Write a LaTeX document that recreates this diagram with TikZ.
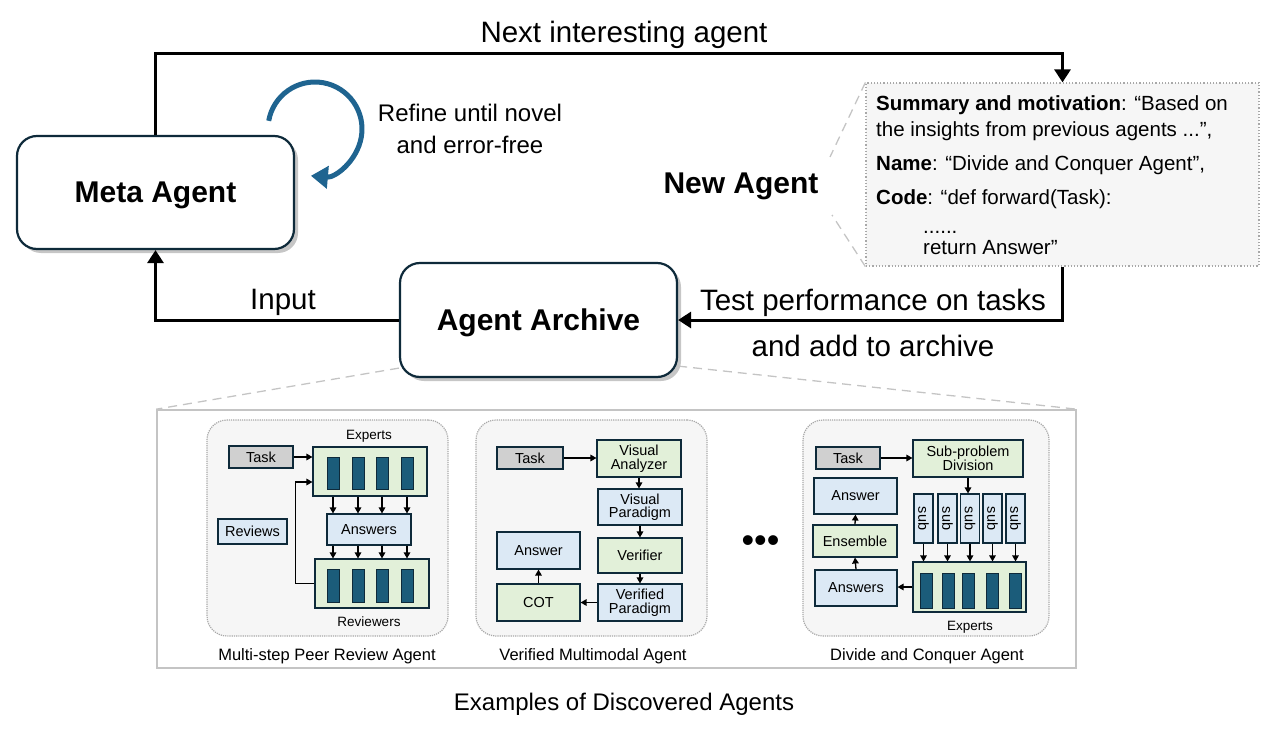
\documentclass[tikz,border=0pt]{standalone}
\usepackage{fontspec}
\setmainfont{Liberation Sans}
\usetikzlibrary{arrows.meta,shadows,calc}
\definecolor{navy}{HTML}{0E2A3A}
\definecolor{gfill}{HTML}{E2F0D9}
\definecolor{bfill}{HTML}{DCE9F5}
\definecolor{tfill}{HTML}{D0D0D0}
\definecolor{barc}{HTML}{1B5C7A}
\definecolor{refc}{HTML}{1F6490}
\definecolor{pfill}{HTML}{F6F6F6}
\definecolor{pline}{HTML}{A8A8A8}
\definecolor{dline}{HTML}{C4C4C4}
\begin{document}
\begin{tikzpicture}[x=1pt,y=-1pt,
 mainbox/.style={draw=navy, line width=2.2pt, fill=white, rounded corners=20pt,
   drop shadow={shadow xshift=4pt,shadow yshift=-4pt,opacity=0.45},
   minimum width=277pt, minimum height=113pt, inner sep=0pt, text depth=0pt,
   font=\fontsize{30}{36}\selectfont\bfseries},
 conn/.style={line width=3pt, -{Triangle[length=13pt,width=16pt]}},
 bigtxt/.style={font=\fontsize{29.5}{34}\selectfont, inner sep=0pt, text depth=0pt},
 midtxt/.style={font=\fontsize{24}{29}\selectfont, inner sep=0pt, text depth=0pt},
 codeline/.style={anchor=west, inner sep=0pt, font=\fontsize{20.5}{24}\selectfont, text height=14.5pt, text depth=4pt},
 panel/.style={draw=pline, densely dotted, line width=1.2pt, fill=pfill, rounded corners=20pt, inner sep=0pt},
 plabel/.style={font=\fontsize{16.5}{20}\selectfont, inner sep=0pt, text depth=0pt},
 slabel/.style={font=\fontsize{13.5}{15}\selectfont, inner sep=0pt},
 sbox/.style={draw=navy, line width=1.1pt, inner sep=0pt, align=center, font=\fontsize{14.5}{15.5}\selectfont},
 gbox/.style={sbox, fill=gfill},
 bbox/.style={sbox, fill=bfill},
 tbox/.style={sbox, fill=tfill},
 bar/.style={draw=navy, line width=0.8pt, fill=barc, minimum width=12pt, inner sep=0pt},
 sarr/.style={line width=1.3pt, -{Triangle[length=6pt,width=6.5pt]}},
 zoomline/.style={draw=dline, dashed, dash pattern=on 9pt off 6pt, line width=1.3pt}
]
\useasboundingbox (0,0) rectangle (1276,730);

% ---------- main boxes ----------
\node[mainbox] (meta) at (155.5,192.5) {Meta Agent};
\node[mainbox, minimum height=114pt] (arch) at (538.5,320) {Agent Archive};
\node[draw=pline, dotted, line width=1.2pt, fill=pfill, minimum width=393pt, minimum height=183pt, inner sep=0pt] (code) at (1062.5,174.5) {};

% code text
\node[codeline] (c1) at (876,105) {\textbf{Summary and motivation}: “Based on};
\node[codeline] (c2) at (876,131) {the insights from previous agents ...”,};
\node[codeline] (c3) at (876,165) {\textbf{Name}: “Divide and Conquer Agent”,};
\node[codeline] (c4) at (876,199) {\textbf{Code}: “def forward(Task):};
\node[codeline] (c5) at (923,228) {......};
\node[codeline] (c6) at (923,249) {return Answer”};

% zoom lines from New Agent to code box
\coordinate (z1) at (830,157);
\coordinate (z2) at (832,215);
\draw[zoomline] (code.north west) -- (z1);
\draw[zoomline] (code.south west) -- (z2);

% labels
\node[font=\fontsize{30}{36}\selectfont\bfseries, inner sep=0pt, text depth=0pt] (newag) at (741,183) {New Agent};
\node[bigtxt] (lnext) at (624,32) {Next interesting agent};
\node[midtxt] (lref1) at (470,113) {Refine until novel};
\node[midtxt] (lref2) at (470,145) {and error-free};
\node[bigtxt] (linput) at (283,299) {Input};
\node[bigtxt] (ltest1) at (873,300) {Test performance on tasks};
\node[bigtxt] (ltest2) at (873,346) {and add to archive};

% connectors
\draw[conn] (meta.north) -- ++(0,-81) -| (code.north);
\draw[conn] (code.south) |- (arch.east);
\draw[conn] (arch.west) -| (meta.south);

% refine loop
\draw[refc, line width=5pt, -{Triangle[length=17pt,width=22pt]}]
  (315,129) ++(190:47) arc[start angle=190, end angle=455, radius=47];

% ---------- examples frame ----------
\node[draw=dline, line width=1.6pt, fill=white, minimum width=919pt, minimum height=258pt, inner sep=0pt] (ex) at (616.5,539) {};
\draw[zoomline] ([yshift=10pt]arch.south west) -- (ex.north west);
\draw[zoomline] ([yshift=12pt]arch.south east) -- (ex.north east);
\node[midtxt] (lex) at (624,702) {Examples of Discovered Agents};

\node[panel, minimum width=241pt, minimum height=216pt] (p1) at (327.5,528) {};
\node[panel, minimum width=231pt, minimum height=216pt] (p2) at (591.5,528) {};
\node[panel, minimum width=246pt, minimum height=216pt] (p3) at (926,528) {};
\node[plabel] (lp1) at (327,655) {Multi-step Peer Review Agent};
\node[plabel] (lp2) at (593,655) {Verified Multimodal Agent};
\node[plabel] (lp3) at (927,655) {Divide and Conquer Agent};
\node[font=\fontsize{36}{40}\selectfont, inner sep=0pt, anchor=base] (dots) at (760.5,552) {•••};

% ---------- panel 1 ----------
\node[tbox, minimum width=64pt, minimum height=22pt] (task1) at (261,457) {Task};
\node[gbox, minimum width=114pt, minimum height=49pt] (exp1) at (370,471.5) {};
\node[bbox, minimum width=84pt, minimum height=31pt] (ans1) at (369,529.5) {Answers};
\node[gbox, minimum width=114pt, minimum height=49pt] (rev1) at (372,583.5) {};
\node[bbox, minimum width=69pt, minimum height=25pt] (revs) at (252.5,531.5) {Reviews};
\node[slabel] (lexp1) at (369,436) {Experts};
\node[slabel] (lrev1) at (369,622) {Reviewers};
\foreach \i/\x in {1/333,2/358,3/382,4/407}{
  \node[bar, minimum height=32pt] (b1\i) at (\x,473) {};
  \node[bar, minimum height=33pt] (r1\i) at (\x,585.5) {};
  \draw[sarr] (exp1.south -| b1\i) -- (ans1.north -| b1\i);
  \draw[sarr] (ans1.south -| b1\i) -- (rev1.north -| b1\i);
}
\draw[sarr] (task1.east) -- (task1.east -| exp1.west);
\draw[sarr] (rev1.west) -- ++(-19,0) |- ([yshift=-10.5pt]exp1.west);

% ---------- panel 2 ----------
\node[tbox, minimum width=66pt, minimum height=22pt] (task2) at (530,458) {Task};
\node[gbox, minimum width=84pt, minimum height=37pt] (va) at (639,458.5) {Visual\\[-2pt]Analyzer};
\node[bbox, minimum width=84pt, minimum height=36pt] (vp) at (640,507) {Visual\\[-2pt]Paradigm};
\node[gbox, minimum width=84pt, minimum height=35pt] (ver) at (640,555.5) {Verifier};
\node[bbox, minimum width=84pt, minimum height=37pt] (vdp) at (640,602.5) {Verified\\[-2pt]Paradigm};
\node[gbox, minimum width=83pt, minimum height=37pt] (cot) at (538.5,602.5) {COT};
\node[bbox, minimum width=83pt, minimum height=37pt] (ans2) at (538.5,550.5) {Answer};
\draw[sarr] (task2.east) -- (task2.east -| va.west);
\draw[sarr] (va.south) -- (va.south |- vp.north);
\draw[sarr] (vp.south) -- (ver.north);
\draw[sarr] (ver.south) -- (vdp.north);
\draw[sarr] (vdp.west) -- (cot.east);
\draw[sarr] (cot.north) -- (ans2.south);

% ---------- panel 3 ----------
\node[tbox, minimum width=64pt, minimum height=22pt] (task3) at (848,458) {Task};
\node[gbox, minimum width=110pt, minimum height=37pt] (spd) at (968,458.5) {Sub-problem\\[-2pt]Division};
\node[gbox, minimum width=113pt, minimum height=50pt] (exp3) at (969.5,587) {};
\node[slabel] (lexp3) at (970,627) {Experts};
\node[bbox, minimum width=82pt, minimum height=36pt] (ans3s) at (856,588) {Answers};
\node[gbox, minimum width=84pt, minimum height=32pt] (ens) at (855,541) {Ensemble};
\node[bbox, minimum width=83pt, minimum height=36pt] (ans3) at (855.5,496) {Answer};
\foreach \i/\x/\bx in {1/923.5/926,2/947.5/948,3/970/968,4/992.5/992,5/1015.5/1015}{
  \node[bbox, minimum width=19pt, minimum height=49pt] (s\i) at (\x,518.5) {};
  \node[rotate=-90, inner sep=0pt, font=\fontsize{14.5}{15}\selectfont] (st\i) at (\x,518.5) {sub};
  \node[bar, minimum height=35pt] (e3\i) at (\bx,590.5) {};
  \draw[sarr] (s\i.south) -- (s\i.south |- exp3.north);
}
\draw[sarr] (task3.east) -- (task3.east -| spd.west);
\draw[sarr] (spd.south) -- (spd.south |- s3.north);
\draw[sarr] (exp3.west) -- (exp3.west -| ans3s.east);
\draw[sarr] (ans3s.north) -- (ens.south);
\draw[sarr] (ens.north) -- (ans3.south);
\end{tikzpicture}
\end{document}
